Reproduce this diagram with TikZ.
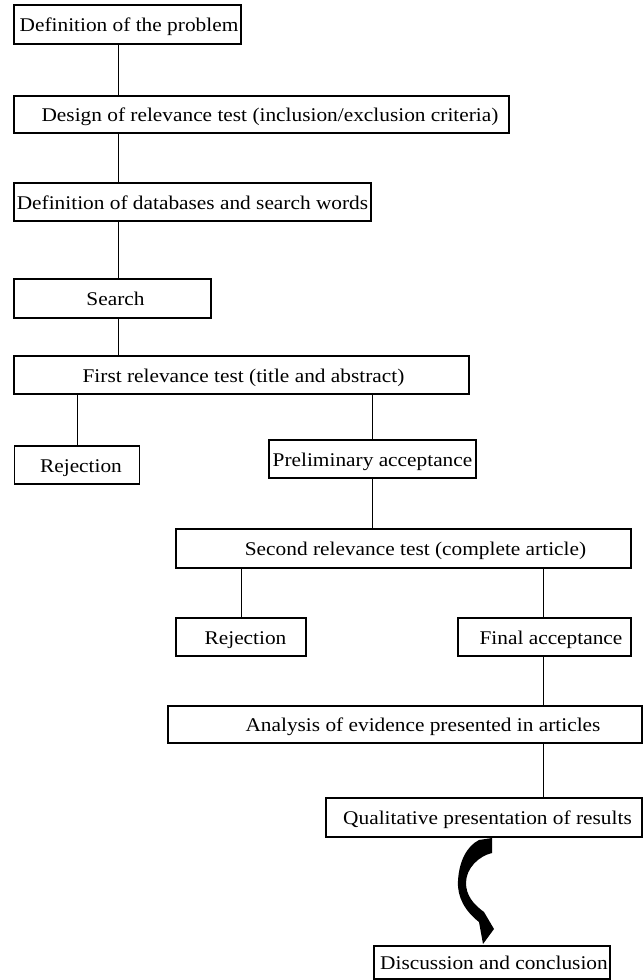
\documentclass[tikz,border=0pt]{standalone}
\usepackage{fontspec}
\setmainfont{Liberation Serif}[FakeStretch=1.1]
\begin{document}
\begin{tikzpicture}[x=1pt,y=-1pt,
  box/.style={draw, line width=1.1pt, inner sep=0pt, font=\fontsize{19.4}{22}\selectfont, text height=14pt, text depth=0pt},
  conn/.style={line width=0.9pt}]
\useasboundingbox (0,0) rectangle (643,980);
\node[box, minimum width=227pt, minimum height=39pt] (b1) at (127.5,24.5) {\hspace*{3pt}Definition of the problem};
\node[box, minimum width=495pt, minimum height=37pt] (b2) at (261.5,114.5) {\hspace*{17pt}Design of relevance test (inclusion/exclusion criteria)};
\node[box, minimum width=357pt, minimum height=38pt] (b3) at (192.5,202) {Definition of databases and search words};
\node[box, minimum width=197pt, minimum height=39pt] (search) at (112.5,298.5) {\hspace*{6pt}Search};
\node[box, minimum width=455pt, minimum height=38pt] (first) at (241.5,375) {\hspace*{4pt}First relevance test (title and abstract)};
\node[box, minimum width=125.5pt, minimum height=38pt] (rej1) at (77,465) {\hspace*{8pt}Rejection};
\node[box, minimum width=207pt, minimum height=38pt] (prelim) at (372.5,459) {Preliminary acceptance};
\node[box, minimum width=455pt, minimum height=39pt] (second) at (403.5,548.5) {\hspace*{24pt}Second relevance test (complete article)};
\node[box, minimum width=130pt, minimum height=38pt] (rej2) at (241,637) {\hspace*{9pt}Rejection};
\node[box, minimum width=173pt, minimum height=38pt] (final) at (544.5,637) {\hspace*{13pt}Final acceptance};
\node[box, minimum width=474pt, minimum height=37pt] (analysis) at (405,724.5) {\hspace*{36pt}Analysis of evidence presented in articles};
\node[box, minimum width=316pt, minimum height=39pt] (qual) at (484,817.5) {\hspace*{7pt}Qualitative presentation of results};
\node[box, minimum width=236pt, minimum height=33pt] (disc) at (492,962.5) {\hspace*{4pt}Discussion and conclusion};
\coordinate (xa) at (118,0);
\coordinate (xb) at (77.5,0);
\coordinate (xc) at (372.5,0);
\coordinate (xd) at (241,0);
\coordinate (xe) at (543,0);
\draw[conn] (b1.south -| xa) -- (b2.north -| xa);
\draw[conn] (b2.south -| xa) -- (b3.north -| xa);
\draw[conn] (b3.south -| xa) -- (search.north -| xa);
\draw[conn] (search.south -| xa) -- (first.north -| xa);
\draw[conn] (first.south -| xb) -- (rej1.north -| xb);
\draw[conn] (first.south -| xc) -- (prelim.north -| xc);
\draw[conn] (prelim.south -| xc) -- (second.north -| xc);
\draw[conn] (second.south -| xd) -- (rej2.north -| xd);
\draw[conn] (second.south -| xe) -- (final.north -| xe);
\draw[conn] (final.south -| xe) -- (analysis.north -| xe);
\draw[conn] (analysis.south -| xe) -- (qual.north -| xe);
\fill (492,838) -- (492,853) .. controls (479,856) and (466,868) .. (466,883) .. controls (466,895) and (473,904) .. (484,912) -- (494,929) -- (483,944) -- (479,922) .. controls (465,911) and (457,897) .. (458,881) .. controls (459,861) and (467,846) .. (479,840) -- cycle;
\end{tikzpicture}
\end{document}
